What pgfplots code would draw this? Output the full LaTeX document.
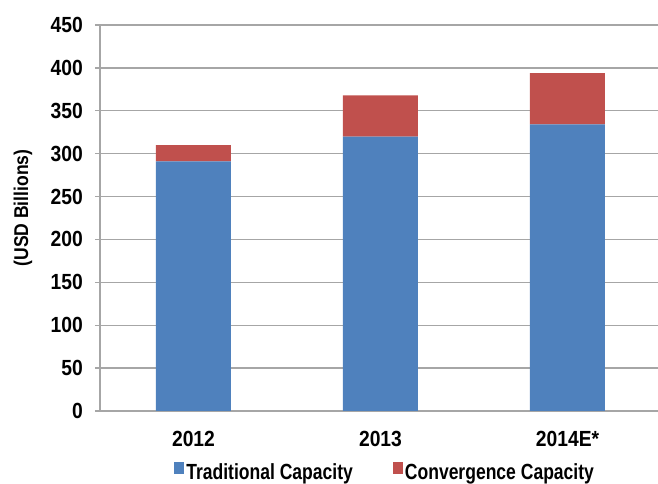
\documentclass[border=0pt]{standalone}
\usepackage{pgfplots}
\pgfplotsset{compat=1.18}
\usepackage{fontspec}
\setmainfont{Liberation Sans}[FakeStretch=0.88]
\newfontfamily\legfont{Liberation Sans}[FakeStretch=0.80]
\definecolor{tradblue}{HTML}{4F81BD}
\definecolor{convred}{HTML}{C0504D}
\definecolor{gridgray}{HTML}{A6A6A6}
\begin{document}
\begin{tikzpicture}
\begin{axis}[
  scale only axis, width=558bp, height=386bp,
  xmin=-0.5, xmax=2.484, ymin=0, ymax=450,
  ybar stacked, bar width=75bp,
  axis lines=left, axis line style={-, gridgray, line width=1.3bp},
  ytick={0,50,...,450}, ymajorgrids, grid style={gridgray, line width=1.3bp},
  tick align=outside,
  major tick length=5bp,
  tick style={gridgray, line width=1.3bp},
  xtick={0,1,2}, xticklabels={2012,2013,2014E*},
  major x tick style={draw=none},
  extra x ticks={-0.5,0.5,1.5,2.5}, extra x tick labels={},
  extra x tick style={major tick length=6bp, tick style={gridgray, line width=1.3bp, draw=gridgray}},
  ticklabel style={font=\fontsize{22}{26}\selectfont\bfseries, text=black, inner sep=0pt},
  /pgf/number format/assume math mode=true,
  yticklabel style={xshift=-12bp},
  xticklabel style={yshift=-15bp},
  ylabel={(USD Billions)},
  ylabel style={font=\fontsize{20}{24}\selectfont\bfseries, at={(axis description cs:-0.138,0.526)}, anchor=center},
  legend style={at={(0.511,-0.160)}, anchor=center, legend columns=2, draw=none,
    font=\fontsize{22}{26}\selectfont\legfont\bfseries, inner sep=0pt,
    /tikz/every even column/.append style={column sep=38bp}},
  legend image code/.code={\fill[#1] (0bp,-1bp) rectangle (10bp,10.7bp);},
]
\addplot[fill=tradblue, draw=none] coordinates {(0,291) (1,320) (2,334)};
\addplot[fill=convred, draw=none] coordinates {(0,19) (1,48) (2,60)};
\legend{Traditional Capacity, Convergence Capacity}
\end{axis}
\pgfresetboundingbox
\path[use as bounding box] (-100bp,-73bp) rectangle (558bp,411bp);
\end{tikzpicture}
\end{document}
